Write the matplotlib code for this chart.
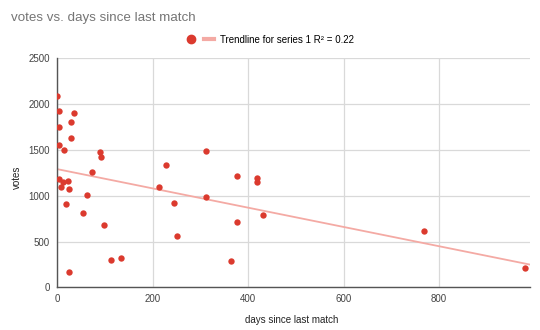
import numpy as np
import matplotlib
matplotlib.use('Agg')
import matplotlib.pyplot as plt
from matplotlib.lines import Line2D

days = [0, 5, 5, 4, 36, 29, 29, 15, 89, 92, 74, 4, 8, 12, 22, 25, 63, 18, 54,
        98, 113, 135, 25, 214, 228, 244, 252, 313, 313, 377, 418, 419, 376,
        432, 365, 769, 981]
votes = [2090, 1927, 1753, 1557, 1898, 1800, 1630, 1499, 1473, 1426, 1262,
         1186, 1099, 1150, 1164, 1070, 1012, 907, 815, 678, 296, 321, 166,
         1099, 1339, 921, 561, 1491, 986, 1215, 1190, 1153, 711, 787, 289,
         612, 216]
xticks = [0, 200, 400, 600, 800]
yticks = [0, 500, 1000, 1500, 2000, 2500]

plt.rcParams['font.family'] = ['Liberation Sans', 'DejaVu Sans']

x = np.array(days, dtype=float)
y = np.array(votes, dtype=float)
slope, icpt = np.polyfit(x, y, 1)

fig = plt.figure(figsize=(5.4, 3.3), dpi=100)
ax = fig.add_axes([0.1056, 0.1288, 0.8754, 0.6952])

red = '#db3a2e'
pink = '#f4aaa4'

xmax = 990
xs = np.array([0, xmax])
ax.plot(xs, icpt + slope * xs, color=pink, lw=1.3, zorder=2)
ax.scatter(x, y, s=21, color=red, zorder=3, linewidths=0)

ax.set_xlim(0, xmax)
ax.set_ylim(0, 2500)
ax.set_xticks(xticks)
ax.set_yticks(yticks)
ax.grid(True, color='#d9d9d9', lw=0.9)
ax.set_axisbelow(True)
for s in ['top', 'right']:
    ax.spines[s].set_visible(False)
for s in ['left', 'bottom']:
    ax.spines[s].set_color('#555555')
    ax.spines[s].set_linewidth(1.0)
ax.tick_params(length=0, labelsize=7, colors='#444444', pad=5)

ax.set_xlabel('days since last match', fontsize=7, color='#222222')
ax.set_ylabel('votes', fontsize=7, color='#222222', va='center')
ax.xaxis.set_label_coords(0.497, -0.12)
ax.yaxis.set_label_coords(-0.085, 0.48)

fig.text(0.02, 0.945, 'votes vs. days since last match', fontsize=9.6,
         color='#757575', va='center', ha='left')

handles = [Line2D([], [], ls='none', marker='o', color=red, markersize=6),
           Line2D([], [], color=pink, lw=3)]
fig.legend(handles, ['', 'Trendline for series 1 R\u00b2 = 0.22'],
           loc='center', bbox_to_anchor=(0.5, 0.88), ncol=2, frameon=False,
           fontsize=7, handlelength=1.0, columnspacing=0.2, handletextpad=0.6)

fig.savefig('out.png', dpi=100, facecolor='white')
